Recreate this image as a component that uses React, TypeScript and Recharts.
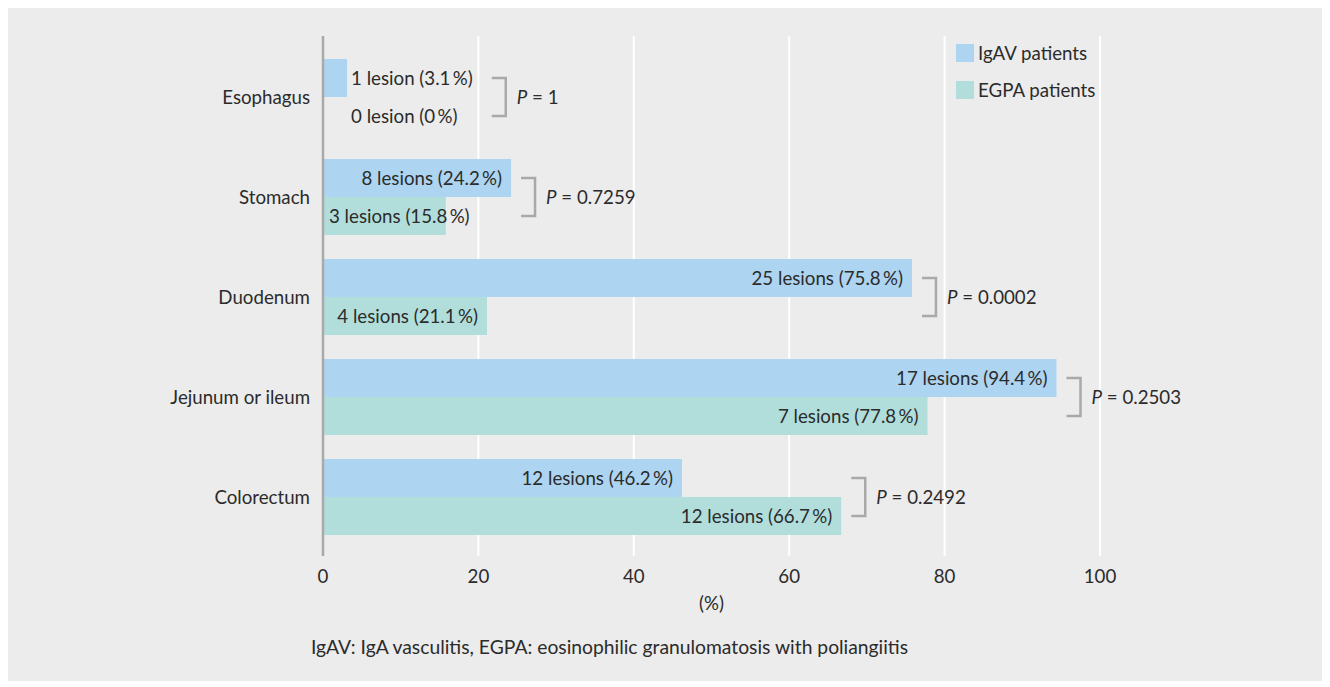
import { BarChart, Bar, XAxis, YAxis, CartesianGrid, Legend, LabelList } from "recharts"

const categories = ["Esophagus", "Stomach", "Duodenum", "Jejunum or ileum", "Colorectum"]
const igavPercent = [3.1, 24.2, 75.8, 94.4, 46.2]
const egpaPercent = [0, 15.8, 21.1, 77.8, 66.7]
const igavLesions = [1, 8, 25, 17, 12]
const egpaLesions = [0, 3, 4, 7, 12]
const pValues = ["1", "0.7259", "0.0002", "0.2503", "0.2492"]
const xTicks = [0, 20, 40, 60, 80, 100]
const seriesNames = ["IgAV patients", "EGPA patients"]
const seriesColors = ["#add4f0", "#b1dedb"]
// where a label sits: after the IgAV bar, at the bar base, or inside the bar end
const igavLabelSide = ["after", "end", "end", "end", "end"]
const egpaLabelSide = ["after", "base", "end", "end", "end"]

const chartData = categories.map((name, i) => ({
  name,
  igav: igavPercent[i],
  egpa: egpaPercent[i],
}))

const FONT = "Lato"
const FS = 18.7
const TEXT = "#2b2b2b"
const BRACKET = "#a9a9a9"

let ctx: CanvasRenderingContext2D | null = null
const measure = (t: string) => {
  if (!ctx) ctx = document.createElement("canvas").getContext("2d")
  if (!ctx) return t.length * 8
  ctx.font = `${FS}px ${FONT}`
  return ctx.measureText(t).width
}

const lesionText = (n: number, pct: number) =>
  `${n} ${n > 1 ? "lesions" : "lesion"} (${pct}\u2009%)`

const Txt = ({ x, y, anchor, children }: any) => (
  <text x={x} y={y} dy="0.35em" textAnchor={anchor} fontSize={FS} fill={TEXT}>
    {children}
  </text>
)

// IgAV row labels, plus the bracket and P value for the pair
const igavLabel = (props: any) => {
  const vb = props.viewBox ?? props
  const { x, y, width, height } = vb
  const i = categories.indexOf(props.value)
  if (i < 0 || x == null) return null
  const ratio = width / igavPercent[i]
  const igEnd = x + width
  const egEnd = x + egpaPercent[i] * ratio
  const igText = lesionText(igavLesions[i], igavPercent[i])
  const egText = lesionText(egpaLesions[i], egpaPercent[i])
  const top = y + height / 2
  const bot = y + height * 1.5
  const ends: number[] = []
  const parts: any[] = []

  if (igavLabelSide[i] === "after") {
    const sx = igEnd + 4
    parts.push(<Txt key="ig" x={sx} y={top} anchor="start">{igText}</Txt>)
    ends.push(sx + measure(igText))
  } else {
    parts.push(<Txt key="ig" x={igEnd - 9} y={top} anchor="end">{igText}</Txt>)
    ends.push(igEnd - 9)
  }

  if (egpaLabelSide[i] === "after") {
    const sx = igEnd + 4
    parts.push(<Txt key="eg" x={sx} y={bot} anchor="start">{egText}</Txt>)
    ends.push(sx + measure(egText))
  } else if (egpaLabelSide[i] === "base") {
    ends.push(x + 6 + measure(egText))
  } else {
    ends.push(egEnd - 9)
  }

  const bx = Math.max(...ends) + 19
  const mid = y + height
  return (
    <g>
      {parts}
      <path
        d={`M${bx},${mid - 19} H${bx + 14} V${mid + 19} H${bx}`}
        fill="none"
        stroke={BRACKET}
        strokeWidth={2.5}
      />
      <text x={bx + 25} y={mid} dy="0.35em" fontSize={FS} fill={TEXT}>
        <tspan fontStyle="italic">P</tspan> = {pValues[i]}
      </text>
    </g>
  )
}

const egpaLabel = (props: any) => {
  const vb = props.viewBox ?? props
  const { x, y, width, height } = vb
  const i = categories.indexOf(props.value)
  if (i < 0 || x == null) return null
  const text = lesionText(egpaLesions[i], egpaPercent[i])
  const cy = y + height / 2
  if (egpaLabelSide[i] === "base") return <Txt x={x + 6} y={cy} anchor="start">{text}</Txt>
  if (egpaLabelSide[i] === "end") return <Txt x={x + width - 9} y={cy} anchor="end">{text}</Txt>
  return null
}

const renderLegend = () => (
  <div style={{ fontSize: FS, color: TEXT }}>
    {seriesNames.map((name, i) => (
      <div key={name} style={{ display: "flex", alignItems: "center", height: 18, marginBottom: 19 }}>
        <span style={{ width: 18, height: 18, background: seriesColors[i], display: "inline-block", marginRight: 4 }} />
        <span>{name}</span>
      </div>
    ))}
  </div>
)

export default function App() {
  return (
    <div
      style={{
        position: "relative",
        width: 1314,
        height: 673,
        background: "#ebeceb",
        fontFamily: FONT,
      }}
    >
      <BarChart
        width={1314}
        height={608}
        data={chartData}
        layout="vertical"
        margin={{ top: 28, right: 222, left: 0, bottom: 0 }}
        barCategoryGap={12}
        barGap={0}
      >
        <CartesianGrid horizontal={false} stroke="#ffffff" strokeWidth={2} />
        <XAxis
          type="number"
          domain={[0, 100]}
          ticks={xTicks}
          axisLine={false}
          tickLine={false}
          tickSize={0}
          tickMargin={14}
          height={60}
          tick={{ fill: TEXT, fontSize: FS }}
          label={{ value: "(%)", position: "insideBottom", offset: 6, fill: TEXT, fontSize: FS }}
        />
        <YAxis
          type="category"
          dataKey="name"
          width={315}
          padding={{ top: 11, bottom: 9 }}
          tickLine={false}
          tickSize={0}
          tickMargin={13}
          axisLine={{ stroke: BRACKET, strokeWidth: 2.5 }}
          tick={{ fill: TEXT, fontSize: FS }}
        />
        <Legend
          layout="vertical"
          align="center"
          verticalAlign="middle"
          wrapperStyle={{ left: 948, top: 36, width: "auto" }}
          content={renderLegend}
        />
        <Bar dataKey="igav" name={seriesNames[0]} fill={seriesColors[0]} isAnimationActive={false}>
          <LabelList dataKey="name" content={igavLabel} />
        </Bar>
        <Bar dataKey="egpa" name={seriesNames[1]} fill={seriesColors[1]} isAnimationActive={false}>
          <LabelList dataKey="name" content={egpaLabel} />
        </Bar>
      </BarChart>
      <div
        style={{
          position: "absolute",
          left: 303,
          top: 629,
          lineHeight: "20px",
          fontSize: 19.3,
          color: TEXT,
        }}
      >
        IgAV: IgA vasculitis, EGPA: eosinophilic granulomatosis with poliangiitis
      </div>
    </div>
  )
}
